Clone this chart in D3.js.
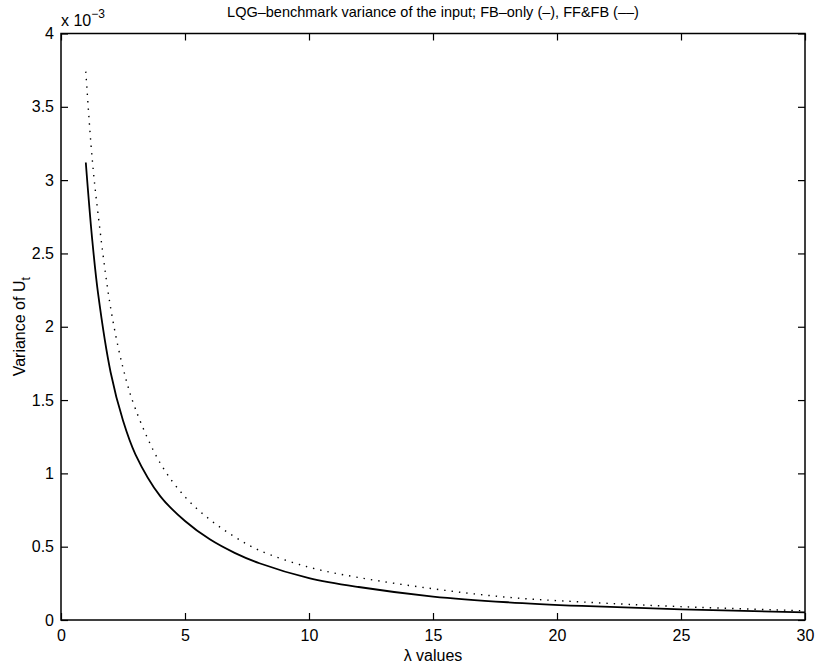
<!DOCTYPE html>
<html>
<head>
<meta charset="utf-8">
<script src="https://cdn.jsdelivr.net/npm/d3@7"></script>
<style>
  body { margin: 0; background: white; }
  svg text { font-family: "Liberation Sans", Arial, sans-serif; fill: black; }
</style>
</head>
<body>
<div id="chart"></div>
<script>
const Lambdas = [1, 1.25, 1.5, 2, 2.5, 3, 4, 5, 6, 7, 8, 10, 12, 15, 18, 21, 25, 30];
// FB-only (solid), variance in units of 1e-3
const FbOnly = [3.12, 2.61, 2.22, 1.69, 1.36, 1.13, 0.845, 0.675, 0.55, 0.458, 0.387, 0.286, 0.225, 0.16, 0.121, 0.096, 0.073, 0.052];
// FF&FB (dotted)
const FfFb = [3.74, 3.16, 2.76, 2.13, 1.72, 1.44, 1.07, 0.84, 0.685, 0.568, 0.475, 0.36, 0.29, 0.213, 0.155, 0.123, 0.091, 0.063];
const XTicks = [0, 5, 10, 15, 20, 25, 30];
const YTicks = [0, 0.5, 1, 1.5, 2, 2.5, 3, 3.5, 4];

const Width = 815, Height = 668;
const Margin = { top: 33.5, right: 10, bottom: 48, left: 61 };
const PlotW = Width - Margin.left - Margin.right;
const PlotH = Height - Margin.top - Margin.bottom;

const Svg = d3.select('#chart').append('svg')
              .attr('width', Width)
              .attr('height', Height);

const G = Svg.append('g').attr('transform', `translate(${Margin.left}, ${Margin.top})`);

const xScale = d3.scaleLinear().domain([0, 30]).range([0, PlotW]);
const yScale = d3.scaleLinear().domain([0, 4]).range([PlotH, 0]);

// curves
const Line = d3.line()
               .x(d => xScale(d[0]))
               .y(d => yScale(d[1]))
               .curve(d3.curveCatmullRom.alpha(0.5));

G.append('path')
 .datum(Lambdas.map((l, i) => [l, FfFb[i]]))
 .attr('d', Line)
 .attr('fill', 'none')
 .attr('stroke', 'black')
 .attr('stroke-width', 1.4)
 .attr('stroke-dasharray', '1.4,6');

G.append('path')
 .datum(Lambdas.map((l, i) => [l, FbOnly[i]]))
 .attr('d', Line)
 .attr('fill', 'none')
 .attr('stroke', 'black')
 .attr('stroke-width', 1.8);

// axes (matlab style, ticks inward, box)
const TickLen = 7;
function StyleAxis(sel)
{
    sel.select('.domain').remove();
    sel.selectAll('.tick line').attr('stroke', 'black').attr('stroke-width', 1.2);
    sel.selectAll('.tick text').style('font-size', '16px');
}

G.append('g')
 .attr('transform', `translate(0, ${PlotH})`)
 .call(d3.axisBottom(xScale).tickValues(XTicks).tickSizeInner(-TickLen).tickPadding(10).tickFormat(d3.format('d')))
 .call(StyleAxis);

G.append('g')
 .call(d3.axisTop(xScale).tickValues(XTicks).tickSizeInner(-TickLen).tickFormat(''))
 .call(StyleAxis);

G.append('g')
 .call(d3.axisLeft(yScale).tickValues(YTicks).tickSizeInner(-TickLen).tickPadding(7).tickFormat(d => d3.format('')(d)))
 .call(StyleAxis);

G.append('g')
 .attr('transform', `translate(${PlotW}, 0)`)
 .call(d3.axisRight(yScale).tickValues(YTicks).tickSizeInner(-TickLen).tickFormat(''))
 .call(StyleAxis);

G.append('rect')
 .attr('x', 0).attr('y', 0)
 .attr('width', PlotW).attr('height', PlotH)
 .attr('fill', 'none')
 .attr('stroke', 'black')
 .attr('stroke-width', 1.5);

// exponent label
const Expo = Svg.append('text')
                .attr('x', Margin.left)
                .attr('y', 26)
                .style('font-size', '16px');
Expo.append('tspan').text('x 10');
Expo.append('tspan').attr('dy', -8).style('font-size', '12px').text('\u22123');

// title
Svg.append('text')
   .attr('x', Margin.left + PlotW / 2)
   .attr('y', 17)
   .attr('text-anchor', 'middle')
   .style('font-size', '14.5px')
   .text('LQG\u2013benchmark variance of the input; FB\u2013only (\u2013), FF&FB (\u2013\u2013)');

// x label
Svg.append('text')
   .attr('x', Margin.left + PlotW / 2)
   .attr('y', 661)
   .attr('text-anchor', 'middle')
   .style('font-size', '16px')
   .text('\u03bb values');

// y label
const YLab = Svg.append('text')
                .attr('transform', `translate(25, ${Margin.top + PlotH / 2}) rotate(-90)`)
                .attr('text-anchor', 'middle')
                .style('font-size', '16px');
YLab.append('tspan').text('Variance of U');
YLab.append('tspan').attr('dy', 5).style('font-size', '12px').text('t');
</script>
</body>
</html>
